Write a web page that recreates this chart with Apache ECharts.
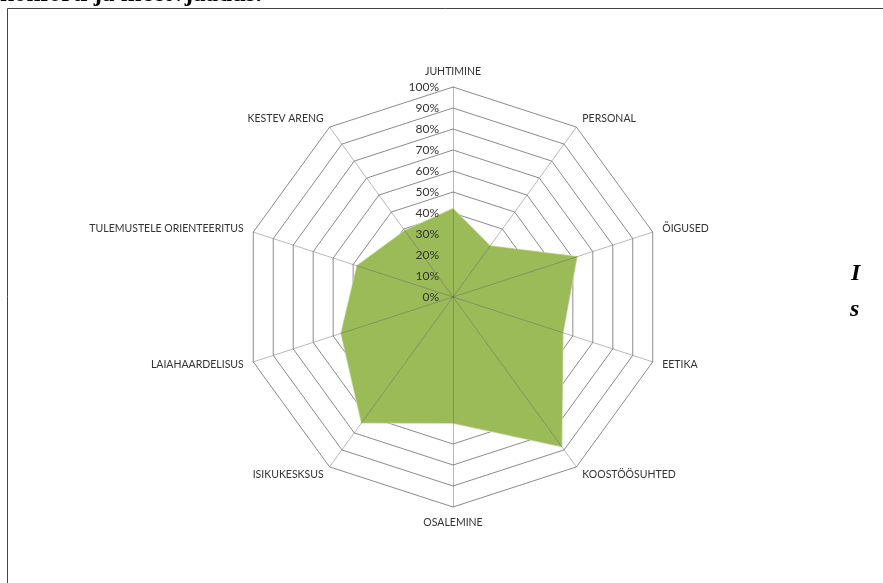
<!DOCTYPE html>
<html>
<head>
<meta charset="utf-8">
<script src="https://cdn.jsdelivr.net/npm/echarts@6/dist/echarts.min.js"></script>
<style>
html,body{margin:0;padding:0;background:#fff;}
#chart{width:883px;height:583px;}
</style>
</head>
<body>
<div id="chart"></div>
<script>
var categories = ['JUHTIMINE','PERSONAL','ÕIGUSED','EETIKA','KOOSTÖÖSUHTED','OSALEMINE','ISIKUKESKSUS','LAIAHAARDELISUS','TULEMUSTELE ORIENTEERITUS','KESTEV ARENG'];
var values = [42, 30, 62, 55, 88, 60, 74, 56, 48, 39];
var axisMax = 100;
var axisSplits = 10;

// ECharts radar runs counterclockwise; reorder so the chart reads clockwise like the reference
function clockwise(arr){ return [arr[0]].concat(arr.slice(1).reverse()); }
var catsCW = clockwise(categories);
var valsCW = clockwise(values);

var chart = echarts.init(document.getElementById('chart'), null, {renderer:'canvas'});

var labelFont = 'Lato';
var indicators = catsCW.map(function(c){ return {name: c, min: 0, max: axisMax}; });
var indicators2 = catsCW.map(function(c, i){
  var o = {name: c, min: 0, max: axisMax};
  if (i === 0) o.axisLabel = {show: true};
  return o;
});

chart.setOption({
  animation: false,
  backgroundColor: '#ffffff',
  graphic: [
    {type:'rect', shape:{x:7.5,y:8.5,width:900,height:600}, style:{fill:null, stroke:'#444', lineWidth:1}},
    {type:'text', left:0, top:-18, style:{text:'konforti ja meetvjaadus.', font:'bold 25px "Liberation Serif"', fill:'#000'}},
    {type:'text', left:851, top:262, style:{text:'I', font:'bold italic 24px "Liberation Serif"', fill:'#000'}},
    {type:'text', left:850, top:298, style:{text:'s', font:'bold italic 24px "Liberation Serif"', fill:'#000'}}
  ],
  radar: [
    {
      center: [453, 297],
      radius: 210,
      startAngle: 90,
      shape: 'polygon',
      splitNumber: axisSplits,
      indicator: indicators,
      axisName: {color:'#333', fontFamily: labelFont, fontSize: 10.5},
      nameGap: 10,
      axisLine: {show: false},
      axisTick: {show: false},
      axisLabel: {show: false},
      splitLine: {lineStyle: {color: '#8c8c8c', width: 1}},
      splitArea: {show: false},
      z: 0
    },
    {
      center: [453, 297],
      radius: 210,
      startAngle: 90,
      shape: 'polygon',
      splitNumber: axisSplits,
      indicator: indicators2,
      axisName: {show: false},
      axisLine: {lineStyle: {color: 'rgba(100,100,100,0.45)', width: 1}},
      axisTick: {show: false},
      axisLabel: {show: false, color:'#333', fontFamily: labelFont, fontSize: 12, formatter: '{value}%', margin: 14},
      splitLine: {show: false},
      splitArea: {show: false},
      z: 5
    }
  ],
  series: [{
    type: 'radar',
    radarIndex: 0,
    z: 2,
    symbol: 'none',
    lineStyle: {color: '#c5dca0', width: 1.5},
    areaStyle: {color: '#9bbb59', opacity: 1},
    data: [{value: valsCW, name: 'Tulemus'}]
  }]
});
</script>
</body>
</html>
